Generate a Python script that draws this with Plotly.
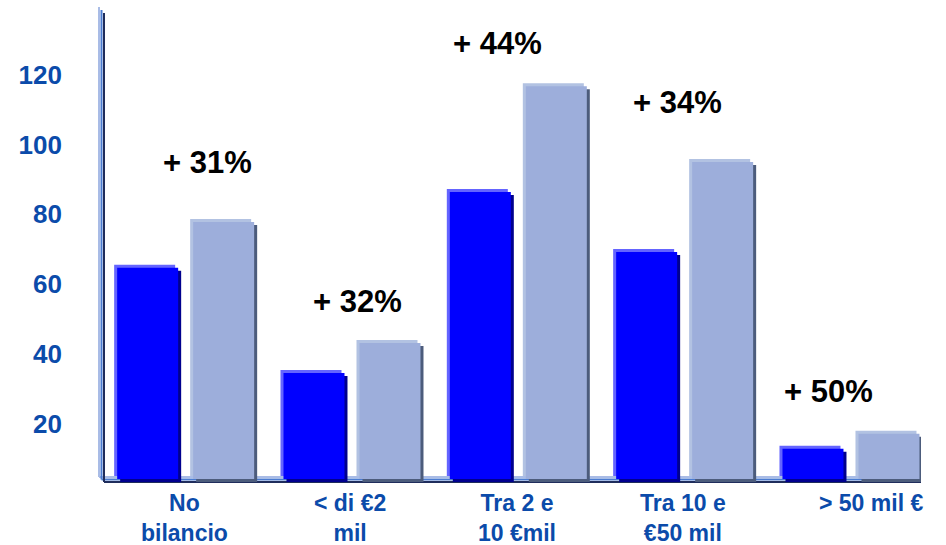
import plotly.graph_objects as go

# ---- data ----
categories = ["No<br>bilancio", "< di €2<br>mil", "Tra 2 e<br>10 €mil", "Tra 10 e<br>€50 mil", "> 50 mil €"]
prev_values = [64.7, 34.6, 86.4, 69.2, 12.9]
curr_values = [77.8, 43.2, 116.7, 95.0, 17.2]
growth_labels = ["+ 31%", "+ 32%", "+ 44%", "+ 34%", "+ 50%"]
y_ticks = [20, 40, 60, 80, 100, 120]

# ---- layout geometry (pixels) ----
W, H = 946, 545
ML, MR, MT, MB = 101, 25, 5, 60
PW, PH = W - ML - MR, H - MT - MB
X_RANGE = [-0.5, 4.43]
Y_RANGE = [2.547, 139.93]
XU = PW / (X_RANGE[1] - X_RANGE[0])      # px per x unit
YU = PH / (Y_RANGE[1] - Y_RANGE[0])      # px per y unit

def dx(px):
    return px / XU

def dy(px):
    return px / YU

BASE = 4.55           # value at the floor line
BAR_W = dx(61)
DEPTH = 3             # px offset of the 3D layers

x_idx = list(range(len(categories)))

series = [
    # values, left offset (px from category centre), highlight, face, shadow
    (prev_values, -70, "#6464FF", "#0000FF", "#00008E"),
    (curr_values, 6, "#B2C2E2", "#9DAEDB", "#4C5C7C"),
]

fig = go.Figure()
for vals, off_px, c_hi, c_face, c_sh in series:
    n = len(vals)
    # shadow (bottom-right)
    fig.add_trace(go.Bar(
        x=x_idx, y=[v - dy(DEPTH) - (BASE - dy(4)) for v in vals],
        base=[BASE - dy(4)] * n,
        offset=dx(off_px + 2 * DEPTH), width=BAR_W,
        marker=dict(color=c_sh, line=dict(width=0)),
        hoverinfo="skip", showlegend=False))
    # highlight (top-left)
    fig.add_trace(go.Bar(
        x=x_idx, y=[v + dy(DEPTH) - (BASE + dy(2)) for v in vals],
        base=[BASE + dy(2)] * n,
        offset=dx(off_px), width=BAR_W,
        marker=dict(color=c_hi, line=dict(width=0)),
        hoverinfo="skip", showlegend=False))
    # face
    fig.add_trace(go.Bar(
        x=x_idx, y=[v - (BASE - dy(1)) for v in vals],
        base=[BASE - dy(1)] * n,
        offset=dx(off_px + DEPTH), width=BAR_W,
        marker=dict(color=c_face, line=dict(width=0)),
        showlegend=False))

# axis frame lines (3D look)
def px_x(px):
    return (px - ML) / PW

def px_y(py):
    return (H - MB - py) / PH

shapes = []
for xv, ytop, ybot, xend, col in [
    (99, 7, 477, 917, "#A9BCE6"),
    (101.5, 10, 479.5, 919, "#4A7BD0"),
    (104, 13, 482, 921, "#1F2D5C"),
]:
    shapes.append(dict(type="line", xref="paper", yref="paper", layer="below",
                       x0=px_x(xv), x1=px_x(xv), y0=px_y(ytop), y1=px_y(ybot),
                       line=dict(color=col, width=2)))
    shapes.append(dict(type="line", xref="paper", yref="paper", layer="below",
                       x0=px_x(xv), x1=px_x(xend), y0=px_y(ybot), y1=px_y(ybot),
                       line=dict(color=col, width=2)))

annotations = []
# growth labels
growth_pos = [(0.143, 94.9), (1.045, 55.2), (1.881, 129.0), (2.969, 112.1), (3.871, 29.2)]
for (gx, gy), txt in zip(growth_pos, growth_labels):
    annotations.append(dict(x=gx, y=gy, xref="x", yref="y", text=txt, showarrow=False,
                            xanchor="center", yanchor="middle",
                            font=dict(family="Liberation Sans, Arial", size=31,
                                      color="#000000", weight="bold")))
# category labels
label_shift = [0, 0, 0, 0, 22]
for i, (cat, sh) in enumerate(zip(categories, label_shift)):
    annotations.append(dict(x=i, y=px_y(488), xref="x", yref="paper", text=cat,
                            showarrow=False, xanchor="center", yanchor="top",
                            xshift=sh, align="center",
                            font=dict(family="Liberation Sans, Arial", size=23,
                                      color="#0B4BAA", weight="bold")))

fig.update_layout(
    width=W, height=H,
    margin=dict(l=ML, r=MR, t=MT, b=MB),
    paper_bgcolor="white", plot_bgcolor="white",
    barmode="overlay",
    shapes=shapes, annotations=annotations,
    xaxis=dict(range=X_RANGE, showgrid=False, zeroline=False, showline=False,
               showticklabels=False, ticks=""),
    yaxis=dict(range=Y_RANGE, showgrid=False, zeroline=False, showline=False,
               tickvals=y_ticks, ticktext=[str(t) for t in y_ticks], ticks="",
               ticklabelstandoff=38,
               tickfont=dict(family="Liberation Sans, Arial", size=26,
                             color="#0B4BAA", weight="bold")),
)

fig.write_html(
    "out.html",
    config={"displayModeBar": False},
    post_script="document.body.style.margin='0';document.body.style.overflow='hidden';",
)
